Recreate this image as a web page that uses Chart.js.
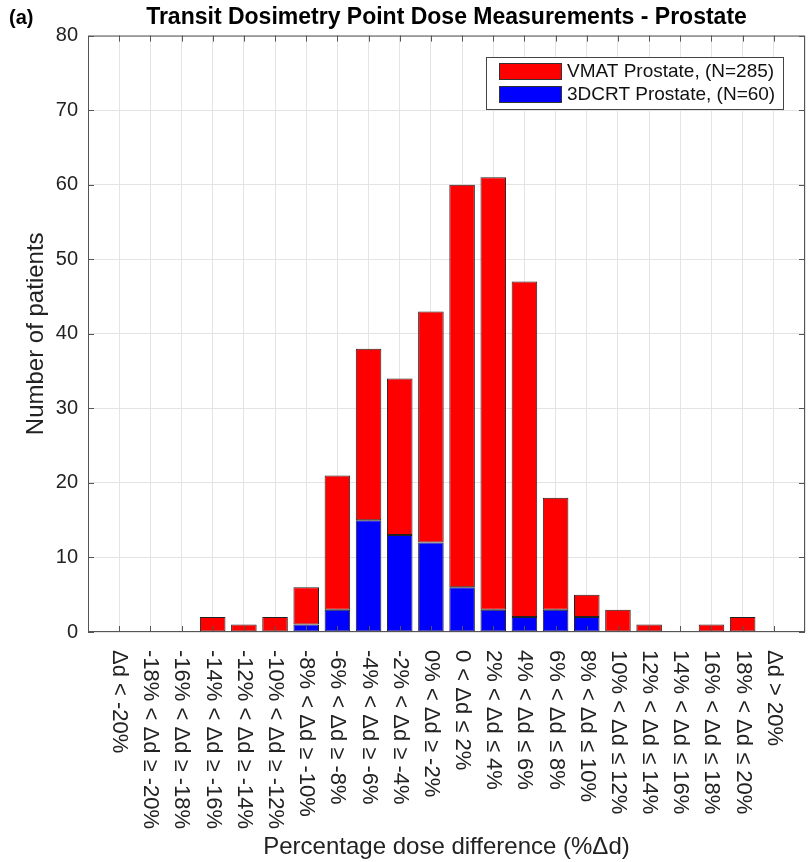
<!DOCTYPE html>
<html>
<head>
<meta charset="utf-8">
<script src="https://cdn.jsdelivr.net/npm/chart.js@4.4.0/dist/chart.umd.min.js"></script>
<style>
  html, body { margin: 0; padding: 0; background: #fff; }
  #wrap { width: 811px; height: 862px; }
</style>
</head>
<body>
<div id="wrap"><canvas id="grafico" width="811" height="862"></canvas></div>
<script>
const categorias = [
  'Δd < -20%', '-18% < Δd ≥ -20%', '-16% < Δd ≥ -18%', '-14% < Δd ≥ -16%',
  '-12% < Δd ≥ -14%', '-10% < Δd ≥ -12%', '-8% < Δd ≥ -10%', '-6% < Δd ≥ -8%',
  '-4% < Δd ≥ -6%', '-2% < Δd ≥ -4%', '0% < Δd ≥ -2%', '0 < Δd ≤ 2%',
  '2% < Δd ≤ 4%', '4% < Δd ≤ 6%', '6% < Δd ≤ 8%', '8% < Δd ≤ 10%',
  '10% < Δd ≤ 12%', '12% < Δd ≤ 14%', '14% < Δd ≤ 16%', '16% < Δd ≤ 18%',
  '18% < Δd ≤ 20%', 'Δd > 20%'
];
const vmat = [0, 0, 0, 2, 1, 2, 5, 18, 23, 21, 31, 54, 58, 45, 15, 3, 3, 1, 0, 1, 2, 0];
const crt3d = [0, 0, 0, 0, 0, 0, 1, 3, 15, 13, 12, 6, 3, 2, 3, 2, 0, 0, 0, 0, 0, 0];
const yTicks = [0, 10, 20, 30, 40, 50, 60, 70, 80];

const fonte = "'Liberation Sans', Arial, Helvetica, sans-serif";
const corEixo = '#555';

// bins sit at x = 1..22, axis runs 0..23 like the original figure
function pontos(valores) {
  return valores.map((v, i) => ({ x: i + 1, y: v }));
}

const extras = {
  id: 'extras',
  afterDraw(chart) {
    const ctx = chart.ctx;
    const area = chart.chartArea;
    const sx = chart.scales.x;
    const sy = chart.scales.y;
    ctx.save();

    // box + inward tick marks
    ctx.strokeStyle = corEixo;
    ctx.lineWidth = 1;
    ctx.strokeRect(area.left + 0.5, area.top + 0.5, area.right - area.left - 1, area.bottom - area.top - 1);
    ctx.beginPath();
    categorias.forEach((c, i) => {
      const x = Math.round(sx.getPixelForValue(i + 1)) + 0.5;
      ctx.moveTo(x, area.bottom); ctx.lineTo(x, area.bottom - 6);
      ctx.moveTo(x, area.top); ctx.lineTo(x, area.top + 6);
    });
    yTicks.forEach(v => {
      const y = Math.round(sy.getPixelForValue(v)) + 0.5;
      ctx.moveTo(area.left, y); ctx.lineTo(area.left + 6, y);
      ctx.moveTo(area.right, y); ctx.lineTo(area.right - 6, y);
    });
    ctx.stroke();

    // rotated category labels, reading top to bottom
    ctx.fillStyle = '#222';
    ctx.font = '22px ' + fonte;
    ctx.textAlign = 'left';
    ctx.textBaseline = 'middle';
    categorias.forEach((c, i) => {
      const x = sx.getPixelForValue(i + 1);
      ctx.save();
      ctx.translate(x, area.bottom + 18);
      ctx.rotate(Math.PI / 2);
      ctx.fillText(c, 0, 0);
      ctx.restore();
    });

    // panel letter
    ctx.font = 'bold 20px ' + fonte;
    ctx.fillStyle = '#000';
    ctx.fillText('(a)', 9, 18);

    // legend box in the upper right
    const lx = 486, ly = 57, lw = 297, lh = 52;
    ctx.fillStyle = '#fff';
    ctx.fillRect(lx, ly, lw, lh);
    ctx.strokeStyle = '#444';
    ctx.strokeRect(lx + 0.5, ly + 0.5, lw, lh);
    const itens = [chart.data.datasets[1], chart.data.datasets[0]];
    ctx.font = '19px ' + fonte;
    itens.forEach((ds, k) => {
      const y = ly + 6 + k * 23;
      ctx.fillStyle = ds.backgroundColor;
      ctx.fillRect(lx + 13, y, 63, 17);
      ctx.strokeStyle = '#333';
      ctx.strokeRect(lx + 13.5, y + 0.5, 62, 16);
      ctx.fillStyle = '#111';
      ctx.fillText(ds.label, lx + 81, y + 9);
    });
    ctx.restore();
  }
};

new Chart(document.getElementById('grafico'), {
  type: 'bar',
  data: {
    datasets: [
      {
        label: '3DCRT Prostate, (N=60)',
        data: pontos(crt3d),
        backgroundColor: '#0000ff',
        borderColor: '#222',
        borderWidth: 1,
        borderSkipped: false
      },
      {
        label: 'VMAT Prostate, (N=285)',
        data: pontos(vmat),
        backgroundColor: '#ff0000',
        borderColor: '#222',
        borderWidth: 1,
        borderSkipped: false
      }
    ]
  },
  options: {
    responsive: false,
    animation: false,
    layout: { padding: { left: 0, right: 6, top: 0, bottom: 0 } },
    datasets: { bar: { barPercentage: 0.82, categoryPercentage: 1 } },
    plugins: {
      legend: { display: false },
      tooltip: { enabled: false },
      title: {
        display: true,
        fullSize: false,
        text: 'Transit Dosimetry Point Dose Measurements - Prostate',
        color: '#000',
        font: { family: fonte, size: 23, weight: 'bold' },
        padding: { top: 4, bottom: 4 }
      }
    },
    scales: {
      x: {
        type: 'linear',
        offset: false,
        stacked: true,
        min: 0,
        max: 23,
        ticks: { display: false, stepSize: 1 },
        grid: { color: '#e4e4e4', drawTicks: false, offset: false },
        border: { display: false },
        title: {
          display: true,
          text: 'Percentage dose difference (%Δd)',
          color: '#222',
          font: { family: fonte, size: 24 },
          padding: { top: 0, bottom: 0 }
        },
        afterFit(scale) { scale.height = 230; }
      },
      y: {
        stacked: true,
        min: 0,
        max: 80,
        ticks: { stepSize: 10, color: '#222', padding: 10, font: { family: fonte, size: 20 } },
        grid: { color: '#e4e4e4', drawTicks: false },
        border: { display: false },
        title: {
          display: true,
          text: 'Number of patients',
          color: '#222',
          font: { family: fonte, size: 24 },
          padding: { top: 22, bottom: 0 }
        },
        afterFit(scale) { scale.width = 88; }
      }
    }
  },
  plugins: [extras]
});
</script>
</body>
</html>
